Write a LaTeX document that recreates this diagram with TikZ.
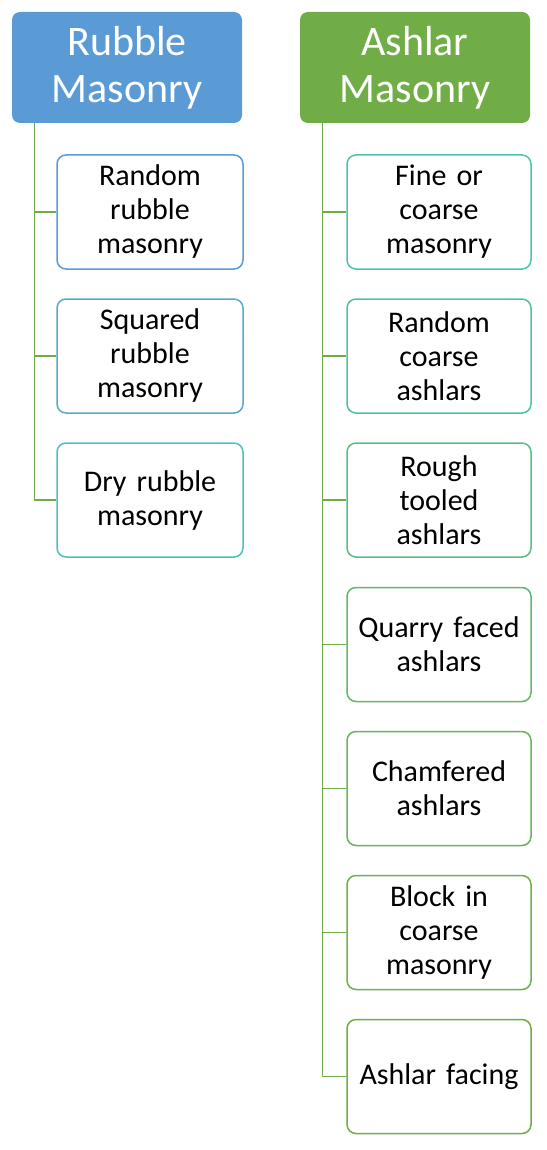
\documentclass[tikz,border=0pt]{standalone}
\usepackage{fontspec}
\setmainfont{Carlito}
\usetikzlibrary{positioning}

\definecolor{headblue}{HTML}{5B9BD5}
\definecolor{headgreen}{HTML}{70AD47}
\definecolor{linkgreen}{HTML}{70AD47}
\definecolor{rimA}{HTML}{5B9BD5}
\definecolor{rimB}{HTML}{56AACB}
\definecolor{rimC}{HTML}{4FBEC4}
\definecolor{rimD}{HTML}{4EC4AE}
\definecolor{rimE}{HTML}{52C399}
\definecolor{rimF}{HTML}{5ABE7E}
\definecolor{rimG}{HTML}{62B86A}
\definecolor{rimH}{HTML}{68B35B}
\definecolor{rimI}{HTML}{6DB04F}
\definecolor{rimJ}{HTML}{70AD47}

\tikzset{
    head/.style={rounded corners=8pt, inner sep=0pt, minimum width=230pt,
	minimum height=111pt, text width=220pt, align=center, text=white,
	font=\fontsize{42}{47}\selectfont},
    item/.style={draw, line width=1.5pt, rounded corners=9pt, fill=white,
	inner sep=0pt, minimum height=114pt, text width=176pt, align=center,
	font=\fontsize{30}{34}\selectfont},
    link/.style={draw=linkgreen, line width=1.3pt}
}

\begin{document}
\begin{tikzpicture}[x=1pt, y=-1pt]
    \useasboundingbox (0, 0) rectangle (546, 1150);

    % rubble masonry
    \node [head, fill=headblue] (rubble) at (127, 67.5) {Rubble\\Masonry};
    \node [item, draw=rimA, minimum width=186pt] (rr1) at (150, 212)
	{Random\\rubble\\masonry};
    \node [item, draw=rimB, minimum width=186pt] (rr2) at (150, 356)
	{Squared\\rubble\\masonry};
    \node [item, draw=rimC, minimum width=186pt] (rr3) at (150, 500)
	{Dry rubble\\masonry};

    \coordinate (rtop) at ([xshift=23pt]rubble.south west);
    \draw [link] (rtop) |- (rr1.west);
    \draw [link] (rtop) |- (rr2.west);
    \draw [link] (rtop) |- (rr3.west);

    % ashlar masonry
    \node [head, fill=headgreen] (ashlar) at (415, 67.5) {Ashlar\\Masonry};
    \node [item, draw=rimD, minimum width=184pt] (as1) at (439, 212)
	{Fine or\\coarse\\masonry};
    \node [item, draw=rimE, minimum width=184pt] (as2) at (439, 356)
	{Random\\coarse\\ashlars};
    \node [item, draw=rimF, minimum width=184pt] (as3) at (439, 500)
	{Rough\\tooled\\ashlars};
    \node [item, draw=rimG, minimum width=184pt] (as4) at (439, 644.5)
	{Quarry faced\\ashlars};
    \node [item, draw=rimH, minimum width=184pt] (as5) at (439, 788.5)
	{Chamfered\\ashlars};
    \node [item, draw=rimI, minimum width=184pt] (as6) at (439, 932.5)
	{Block in\\coarse\\masonry};
    \node [item, draw=rimJ, minimum width=184pt] (as7) at (439, 1076.5)
	{Ashlar facing};

    \coordinate (atop) at ([xshift=23pt]ashlar.south west);
    \foreach \k in {1, ..., 7}
	\draw [link] (atop) |- (as\k.west);
\end{tikzpicture}
\end{document}
